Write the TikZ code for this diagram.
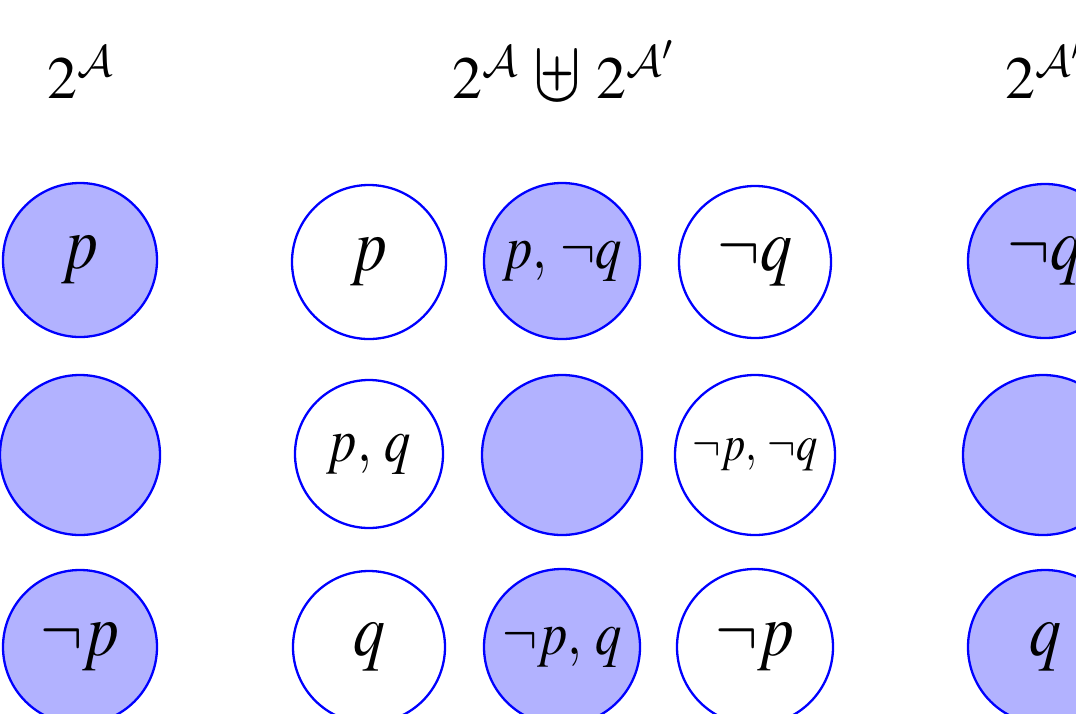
\documentclass[tikz,border=0pt]{standalone}
\usepackage{fix-cm}
\usepackage{graphicx}
\usepackage{mathptmx}
\DeclareMathAlphabet{\mathcal}{OMS}{cmsy}{m}{n}
\newcommand{\wlab}[1]{\scalebox{0.85}[1]{$#1$}}
\newcommand{\bigplusu}{\mathbin{\raisebox{-2pt}{\scalebox{1.2}[1.45]{$\uplus$}}}}
\begin{document}
\begin{tikzpicture}[x=1pt,y=-1pt,
  world/.style={circle,draw=blue,line width=2.3pt,inner sep=0pt,text=black},
  on/.style={world,fill=blue!30},
  off/.style={world,fill=white},
  big/.style={font=\fontsize{75}{75}\selectfont},
  mid/.style={font=\fontsize{62}{62}\selectfont},
  small/.style={font=\fontsize{50}{50}\selectfont},
  ttl/.style={font=\fontsize{60}{60}\selectfont,anchor=base}]
\useasboundingbox (0,0) rectangle (1076,713);
\clip (0,0) rectangle (1076,713);
% titles
\node[ttl] (tA) at (80,98) {$2^{\mathcal{A}}$};
\node[ttl] (tU) at (563,98) {$2^{\mathcal{A}}\,\bigplusu\,2^{\mathcal{A}'}$};
\node[ttl] (tB) at (1044,98) {$2^{\mathcal{A}'}$};
% left column
\node[on,minimum size=154,big] (l1) at (80,260) {\wlab{p}};
\node[on,minimum size=160] (l2) at (80,455) {};
\node[on,minimum size=154,big] (l3) at (80,647) {\wlab{\neg p}};
% middle column 1
\node[off,minimum size=154,big] (a1) at (369,262) {\wlab{p}};
\node[off,minimum size=148,mid] (a2) at (369,454) {\wlab{p,\:q}};
\node[off,minimum size=152,big] (a3) at (369,647) {\wlab{q}};
% middle column 2
\node[on,minimum size=156,mid] (b1) at (562,261) {\wlab{p,\:\neg q}};
\node[on,minimum size=160] (b2) at (562,455) {};
\node[on,minimum size=156,mid] (b3) at (562,647) {\wlab{\neg p,\:q}};
% middle column 3
\node[off,minimum size=152,big] (c1) at (755,262) {\wlab{\neg q}};
\node[off,minimum size=160,small] (c2) at (755,455) {\wlab{\neg p,\:\neg q}};
\node[off,minimum size=156,big] (c3) at (755,647) {\wlab{\neg p}};
% right column
\node[on,minimum size=154,big] (r1) at (1045,261) {\wlab{\neg q}};
\node[on,minimum size=160] (r2) at (1043,455) {};
\node[on,minimum size=154,big] (r3) at (1045,647) {\wlab{q}};
\end{tikzpicture}
\end{document}
